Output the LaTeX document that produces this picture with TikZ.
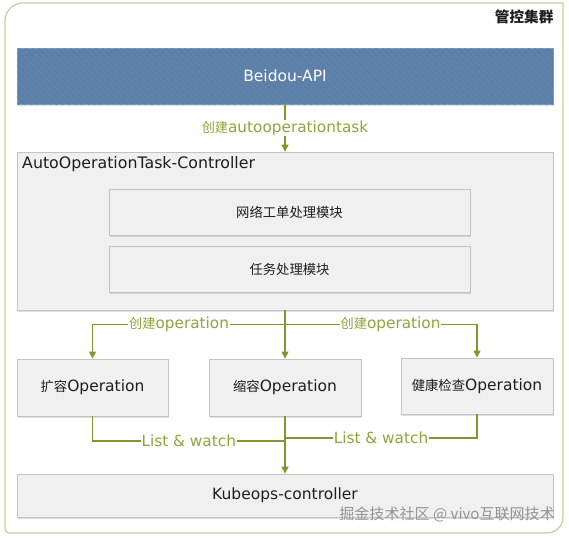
\documentclass[tikz,border=0pt]{standalone}
\usepackage{fontspec}
\setmainfont{DejaVu Sans}
\newfontfamily\cjk{Noto Sans CJK SC}[Scale=0.86]
\usetikzlibrary{arrows.meta,shadows,patterns.meta}
\definecolor{framec}{RGB}{200,204,160}
\definecolor{boxb}{RGB}{196,196,190}
\definecolor{boxf}{RGB}{240,240,240}
\definecolor{apif}{RGB}{94,130,170}
\definecolor{apib}{RGB}{122,156,192}
\definecolor{apih}{RGB}{86,121,160}
\definecolor{linec}{RGB}{128,150,46}
\definecolor{lblc}{RGB}{145,163,60}
\definecolor{txt}{RGB}{30,30,30}
\begin{document}
\begin{tikzpicture}[x=1pt,y=-1pt,
  box/.style={draw=boxb, fill=boxf, line width=0.8pt, text=txt,
    drop shadow={shadow xshift=1pt, shadow yshift=-1.5pt, opacity=0.25},
    font=\fontsize{15.5}{18}\selectfont, inner sep=0pt},
  apibox/.style={draw=apib, fill=apif, line width=0.8pt, text=white,
    postaction={pattern={Lines[angle=135,distance=4.5pt,line width=0.4pt]}, pattern color=apih},
    drop shadow={shadow xshift=1pt, shadow yshift=-1.5pt, opacity=0.25},
    font=\fontsize{15.5}{18}\selectfont, inner sep=0pt},
  lbl/.style={fill=white, text=lblc, inner sep=1pt, font=\fontsize{15.3}{18}\selectfont},
  conn/.style={draw=linec, line width=1.1pt},
  arr/.style={conn, -{Triangle[width=7pt,length=7pt]}}]
\useasboundingbox (0,0) rectangle (569,538);
% outer frame
\draw[draw=framec, fill=white, line width=1.2pt]
  (5,300) [rounded corners=18pt] -- (5,3) -- (300,3) [sharp corners] -- (563,3) -- (563,300)
  [rounded corners=16pt] -- (563,533) -- (300,533) [rounded corners=4pt] -- (5,533) -- cycle;
\node[anchor=east, font=\fontsize{17}{18}\selectfont\cjk\bfseries, text=txt] (title) at (557,17) {管控集群};
% boxes
\node[apibox, minimum width=536pt, minimum height=56pt] (api) at (285,76) {Beidou-API};
\node[box, minimum width=536pt, minimum height=158pt] (ctrl) at (285,231) {};
\node[anchor=west, font=\fontsize{15.8}{18}\selectfont, text=txt, inner sep=0pt] (ctrlt) at (22,164) {AutoOperationTask-Controller};
\node[box, minimum width=361pt, minimum height=46pt] (m1) at (289.5,212) {\cjk 网络工单处理模块};
\node[box, minimum width=361pt, minimum height=46pt] (m2) at (289.5,269) {\cjk 任务处理模块};
\node[box, minimum width=151pt, minimum height=57pt] (op1) at (92.5,387.5) {{\cjk 扩容}Operation};
\node[box, minimum width=152pt, minimum height=57pt] (op2) at (285,387.5) {{\cjk 缩容}Operation};
\node[box, minimum width=152pt, minimum height=56pt] (op3) at (477,386) {{\cjk 健康检查}Operation};
\node[box, minimum width=536pt, minimum height=43pt] (kube) at (285,495.5) {Kubeops-controller};
% connectors
\draw[arr] (api.south) -- node[lbl]{{\cjk 创建}autooperationtask} (ctrl.north);
\draw[arr] (ctrl.south) -- (op2.north);
\draw[arr] (ctrl.south) -- ++(0,14) -| node[lbl,pos=0.275]{{\cjk 创建}operation} (op1.north);
\draw[arr] (ctrl.south) -- ++(0,14) -| node[lbl,pos=0.275]{{\cjk 创建}operation} (op3.north);
\coordinate (jl) at (285,441);
\coordinate (jr) at (285,438);
\draw[conn] (op1.south) |- node[lbl,pos=0.75]{List \& watch} (jl);
\draw[conn] (op3.south) |- node[lbl,pos=0.75]{List \& watch} (jr);
\draw[arr] (op2.south) -- (kube.north);
% watermark
\node[anchor=east, font=\fontsize{17.5}{20}\selectfont\cjk, text=black!42, inner sep=0pt] (wm) at (555,514) {掘金技术社区 @ vivo互联网技术};
\end{tikzpicture}
\end{document}
